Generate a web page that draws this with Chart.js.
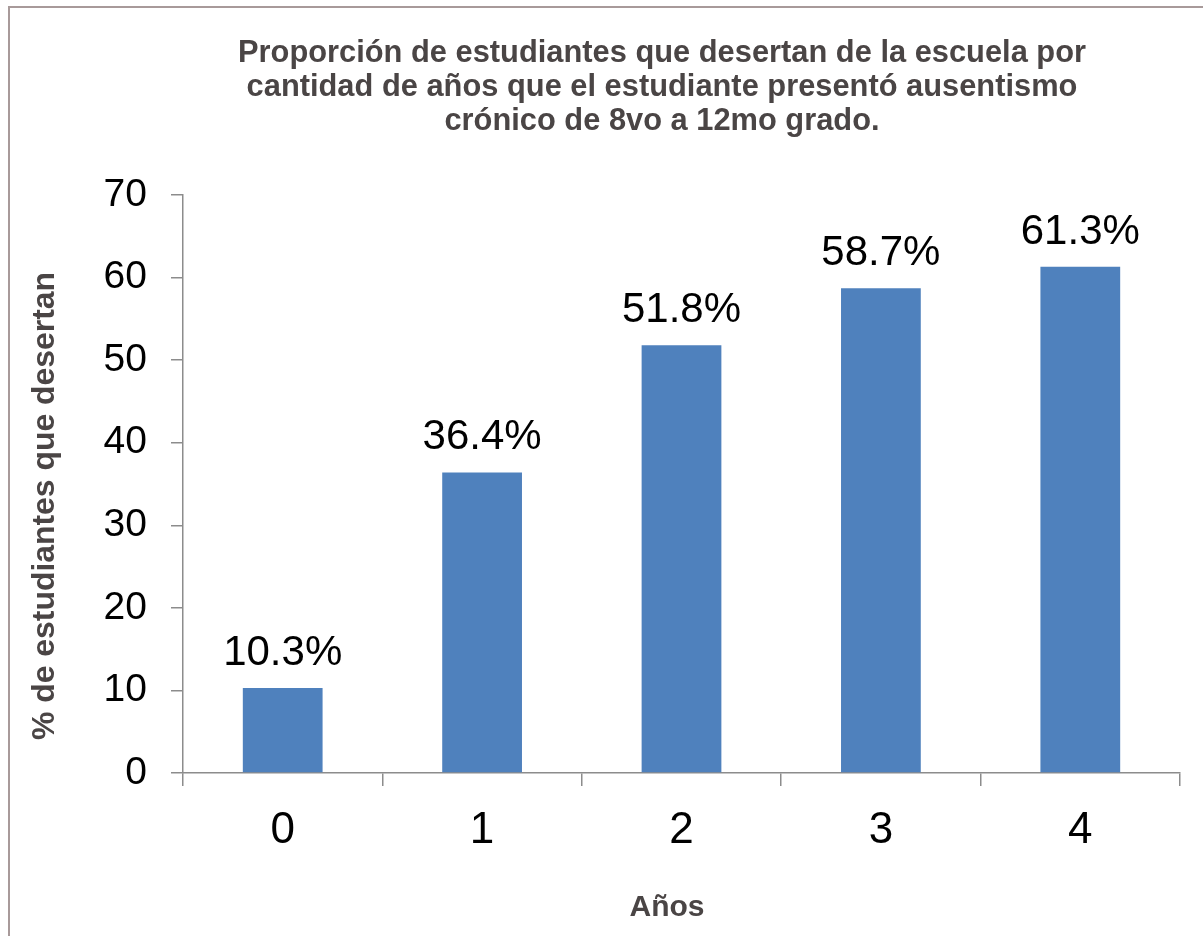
<!DOCTYPE html>
<html><head><meta charset="utf-8">
<script src="https://cdn.jsdelivr.net/npm/chart.js@4.4.1/dist/chart.umd.min.js"></script>
<style>html,body{margin:0;padding:0;background:#fff;overflow:hidden;} #wrap{width:1203px;height:936px;position:relative;}</style>
</head><body><div id="wrap"><canvas id="c" width="1203" height="936"></canvas></div>
<script>
const categories = ['0', '1', '2', '3', '4'];
const dropoutPct = [10.3, 36.4, 51.8, 58.7, 61.3];
const yMin = 0, yMax = 70, yStep = 10;
const titleLines = [
  'Proporción de estudiantes que desertan de la escuela por',
  'cantidad de años que el estudiante presentó ausentismo',
  'crónico de 8vo a 12mo grado.'
];
const xTitle = 'Años';
const yTitle = '% de estudiantes que desertan';

const FONT = '"Liberation Sans", Arial, sans-serif';
const TEXT_GRAY = '#4a4545';
const AXIS_GRAY = '#8c8c8c';

const framePlugin = {
  id: 'frame',
  beforeDraw(chart) {
    const ctx = chart.ctx;
    ctx.save();
    ctx.fillStyle = '#fff';
    ctx.fillRect(0, 0, chart.width, chart.height);
    ctx.strokeStyle = '#a89a9a';
    ctx.lineWidth = 2;
    ctx.beginPath();
    ctx.moveTo(9, chart.height);
    ctx.lineTo(9, 7);
    ctx.lineTo(chart.width, 7);
    ctx.stroke();
    ctx.restore();
  }
};

const labelsPlugin = {
  id: 'valueLabels',
  afterDatasetsDraw(chart) {
    const ctx = chart.ctx;
    const meta = chart.getDatasetMeta(0);
    ctx.save();
    ctx.font = '42px ' + FONT;
    ctx.fillStyle = '#000';
    ctx.textAlign = 'center';
    ctx.textBaseline = 'alphabetic';
    meta.data.forEach((bar, i) => {
      ctx.fillText(dropoutPct[i].toFixed(1) + '%', bar.x, bar.y - 23);
    });
    ctx.restore();
  }
};

const titlesPlugin = {
  id: 'titles',
  afterDraw(chart) {
    const ctx = chart.ctx;
    ctx.save();
    ctx.fillStyle = TEXT_GRAY;
    ctx.textAlign = 'center';
    ctx.textBaseline = 'alphabetic';
    ctx.font = 'bold 32px ' + FONT;
    const sx = 848 / ctx.measureText(titleLines[0]).width;
    titleLines.forEach((line, i) => {
      ctx.save();
      ctx.translate(662, 62 + i * 34);
      ctx.scale(sx, 1);
      ctx.fillText(line, 0, 0);
      ctx.restore();
    });
    ctx.font = 'bold 30px ' + FONT;
    ctx.textBaseline = 'middle';
    ctx.fillText(xTitle, 667, 908);
    ctx.font = 'bold 31px ' + FONT;
    const sy = 468 / ctx.measureText(yTitle).width;
    ctx.translate(45, 506);
    ctx.rotate(-Math.PI / 2);
    ctx.scale(sy, 1);
    ctx.fillText(yTitle, 0, 0);
    ctx.restore();
  }
};

new Chart(document.getElementById('c'), {
  type: 'bar',
  data: {
    labels: categories,
    datasets: [{
      data: dropoutPct,
      backgroundColor: '#4f81bd',
      borderWidth: 0,
      barPercentage: 0.4,
      categoryPercentage: 1.0
    }]
  },
  options: {
    responsive: false,
    animation: false,
    devicePixelRatio: 1,
    layout: { padding: { top: 195, right: 23, left: 0, bottom: 0 } },
    plugins: { legend: { display: false }, tooltip: { enabled: false }, title: { display: false } },
    scales: {
      x: {
        afterFit(scale) { scale.height = 163; },
        grid: { offset: true, drawOnChartArea: false, drawTicks: true, tickLength: 13, color: AXIS_GRAY, lineWidth: 1.5 },
        border: { color: AXIS_GRAY, width: 1.5 },
        ticks: { color: '#000', font: { family: FONT, size: 44 }, padding: 18 }
      },
      y: {
        min: yMin, max: yMax,
        afterFit(scale) { scale.width = 183; },
        grid: { drawOnChartArea: false, drawTicks: true, tickLength: 12, color: AXIS_GRAY, lineWidth: 1.5 },
        border: { color: AXIS_GRAY, width: 1.5 },
        ticks: { stepSize: yStep, color: '#000', font: { family: FONT, size: 39 }, padding: 24 }
      }
    }
  },
  plugins: [framePlugin, labelsPlugin, titlesPlugin]
});
</script>
</body></html>
